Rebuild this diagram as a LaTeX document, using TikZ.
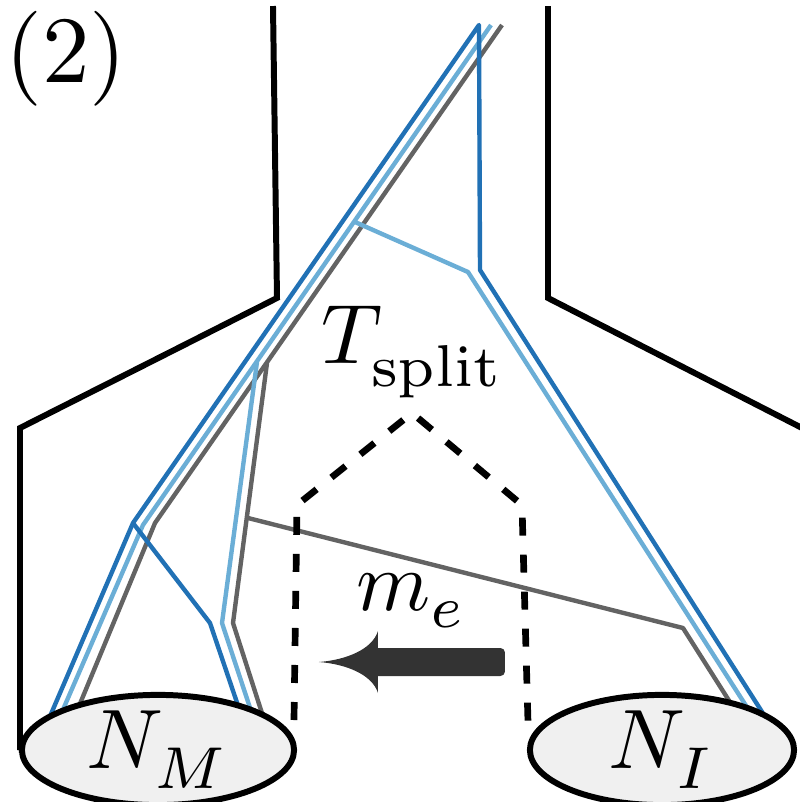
\documentclass[tikz,border=0pt]{standalone}
\usepackage{graphicx}
\usetikzlibrary{shapes.geometric}
\definecolor{dblue}{HTML}{2171B5}
\definecolor{lblue}{HTML}{6BAED6}
\definecolor{tgray}{HTML}{636363}
\definecolor{arrowc}{HTML}{333333}
\definecolor{ellfill}{HTML}{F0F0F0}
\newcommand{\lsub}[2][0.8pt]{\lower#1\hbox{$\scriptstyle #2$}}
\newcommand{\biglabel}[1]{\scalebox{2.4}{#1}}
\tikzset{
  treeline/.style={line width=1.25pt, line join=round},
  boundary/.style={line width=1.7pt, line join=miter},
  splitline/.style={line width=1.9pt, dash pattern=on 0.18cm off 0.19cm},
  popnode/.style={ellipse, draw, line width=1.7pt, fill=ellfill, minimum width=2.72cm, minimum height=0.88cm, inner sep=0pt},
  lbl/.style={inner sep=0pt, anchor=base},
}
\begin{document}
\begin{tikzpicture}[x=0.01cm, y=-0.01cm]
\useasboundingbox (0,0) rectangle (800,802);
% tree vertices
\coordinate (dbtop) at (479,25);
\coordinate (lbtop) at (491,25);
\coordinate (gtop) at (502,25);
\coordinate (dbj) at (133,523);
\coordinate (lbj) at (143,525);
\coordinate (gj) at (155,523);
\coordinate (dbv) at (480,270);
\coordinate (lbb) at (355,222);
\coordinate (lbk) at (468,272);
\coordinate (lbs) at (257,362);
\coordinate (lbs2) at (222,623);
\coordinate (gs) at (267,363);
\coordinate (gs2) at (233,623);
\coordinate (gh) at (248,518);
\coordinate (gh2) at (683,628);
\coordinate (dbk) at (210,623);
% leaves (hidden inside the populations)
\coordinate (m1) at (42,735);
\coordinate (m2) at (52,735);
\coordinate (m3) at (67,735);
\coordinate (m4) at (248,735);
\coordinate (m5) at (259,735);
\coordinate (m6) at (269,735);
\coordinate (i1) at (780,740);
\coordinate (i2) at (768,740);
\coordinate (i3) at (754,740);
% gray tree
\draw[treeline, tgray] (m3) -- (gj) -- (gtop);
\draw[treeline, tgray] (gs) -- (gs2) -- (m6);
\draw[treeline, tgray] (gh) -- (gh2) -- (i3);
% light blue tree
\draw[treeline, lblue] (m2) -- (lbj) -- (lbtop);
\draw[treeline, lblue] (lbb) -- (lbk) -- (i2);
\draw[treeline, lblue] (lbs) -- (lbs2) -- (m5);
% dark blue tree
\draw[treeline, dblue] (m1) -- (dbj) -- (dbtop) -- (dbv) -- (i1);
\draw[treeline, dblue] (dbj) -- (dbk) -- (m4);
% populations
\node[popnode] (nm) at (158,750) {\biglabel{$N_{\lsub[0.9pt]{M}}$}};
\node[popnode, minimum width=2.64cm] (ni) at (662,750) {\biglabel{$N_{\lsub[0.9pt]{I}}$}};
% boundaries
\coordinate (la) at (273,6);
\coordinate (lb) at (277,298);
\coordinate (lc) at (20,428);
\coordinate (lw) at (20,750);
\draw[boundary] (la) -- (lb) -- (lc) -- (lw) -- (nm.west);
\coordinate (ra) at (548,6);
\coordinate (rb) at (548,298);
\coordinate (rc) at (806,430);
\draw[boundary] (ra) -- (rb) -- (rc);
% split house
\coordinate (s1) at (294,720);
\coordinate (s2) at (297,505);
\coordinate (s3) at (412,413);
\coordinate (s4) at (522,505);
\coordinate (s5) at (528,722);
\draw[splitline] (s1) -- (s2) -- (s3) -- (s4) -- (s5);
% migration arrow
\fill[arrowc] (378,631) .. controls (372,650) and (345,660) .. (319,662)
  .. controls (345,664) and (372,674) .. (378,693) -- (378,676)
  [rounded corners=1.3pt] -- (505,676) -- (505,648) [sharp corners] -- (378,648) -- cycle;
% labels
\node[lbl] (tsplit) at (413,363) {\biglabel{$T_{\lsub[1.3pt]{\mathrm{split}}}$}};
\node[lbl] (me) at (412,610) {\biglabel{$m_{\lsub[0.6pt]{e}}$}};
\node[lbl] (tag) at (66,82) {\scalebox{2.7}{(2)}};
\end{tikzpicture}
\end{document}
